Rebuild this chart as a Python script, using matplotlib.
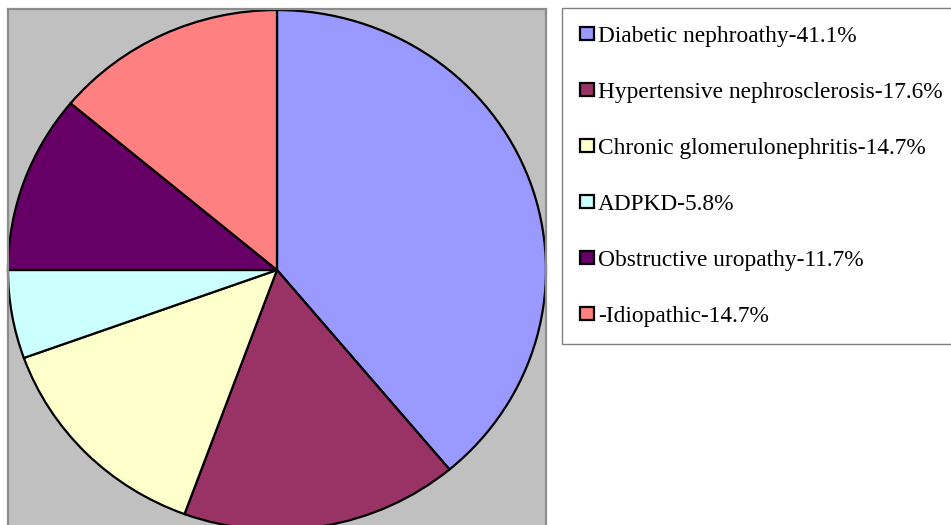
import matplotlib
matplotlib.use('Agg')
import matplotlib.pyplot as plt

# CKD etiology breakdown
labels = ['Diabetic nephroathy-41.1%',
          'Hypertensive nephrosclerosis-17.6%',
          'Chronic glomerulonephritis-14.7%',
          'ADPKD-5.8%',
          'Obstructive uropathy-11.7%',
          '-Idiopathic-14.7%']
values = [41.1, 17.6, 14.7, 5.8, 11.7, 14.7]
colors = ['#9999FF', '#993366', '#FFFFCC', '#CCFFFF', '#660066', '#FF8080']

W, H = 951, 525
fig = plt.figure(figsize=(W / 100, H / 100), dpi=100)

# plot area: grey box, pie slightly stretched horizontally
ax = fig.add_axes([8 / W, 0, 538 / W, 516 / H])
wedges, _ = ax.pie(values, colors=colors, startangle=90, counterclock=False,
                   wedgeprops=dict(edgecolor='black', linewidth=1.6))
ax.set_aspect('auto')
ax.set_xlim(-1.0, 1.0)
ax.set_ylim(-0.981, 1.004)
ax.set_frame_on(True)
ax.set_facecolor('#C0C0C0')
for side, sp in ax.spines.items():
    sp.set_color('#8C8C8C')
    sp.set_linewidth(1.6)
ax.spines['bottom'].set_visible(False)

leg = fig.legend(wedges, labels, loc='upper left',
                 bbox_to_anchor=(562 / W, 1 - 8 / H),
                 bbox_transform=fig.transFigure,
                 prop={'family': 'Liberation Serif', 'size': 16.8},
                 fancybox=False, framealpha=1, edgecolor='#808080',
                 borderpad=0.76, labelspacing=1.5,
                 handlelength=0.6, handleheight=0.5, handletextpad=0.17,
                 borderaxespad=0)
leg.get_frame().set_linewidth(1.0)
for h in leg.legend_handles:
    h.set_linewidth(1.6)

fig.savefig('out.png', dpi=100)
